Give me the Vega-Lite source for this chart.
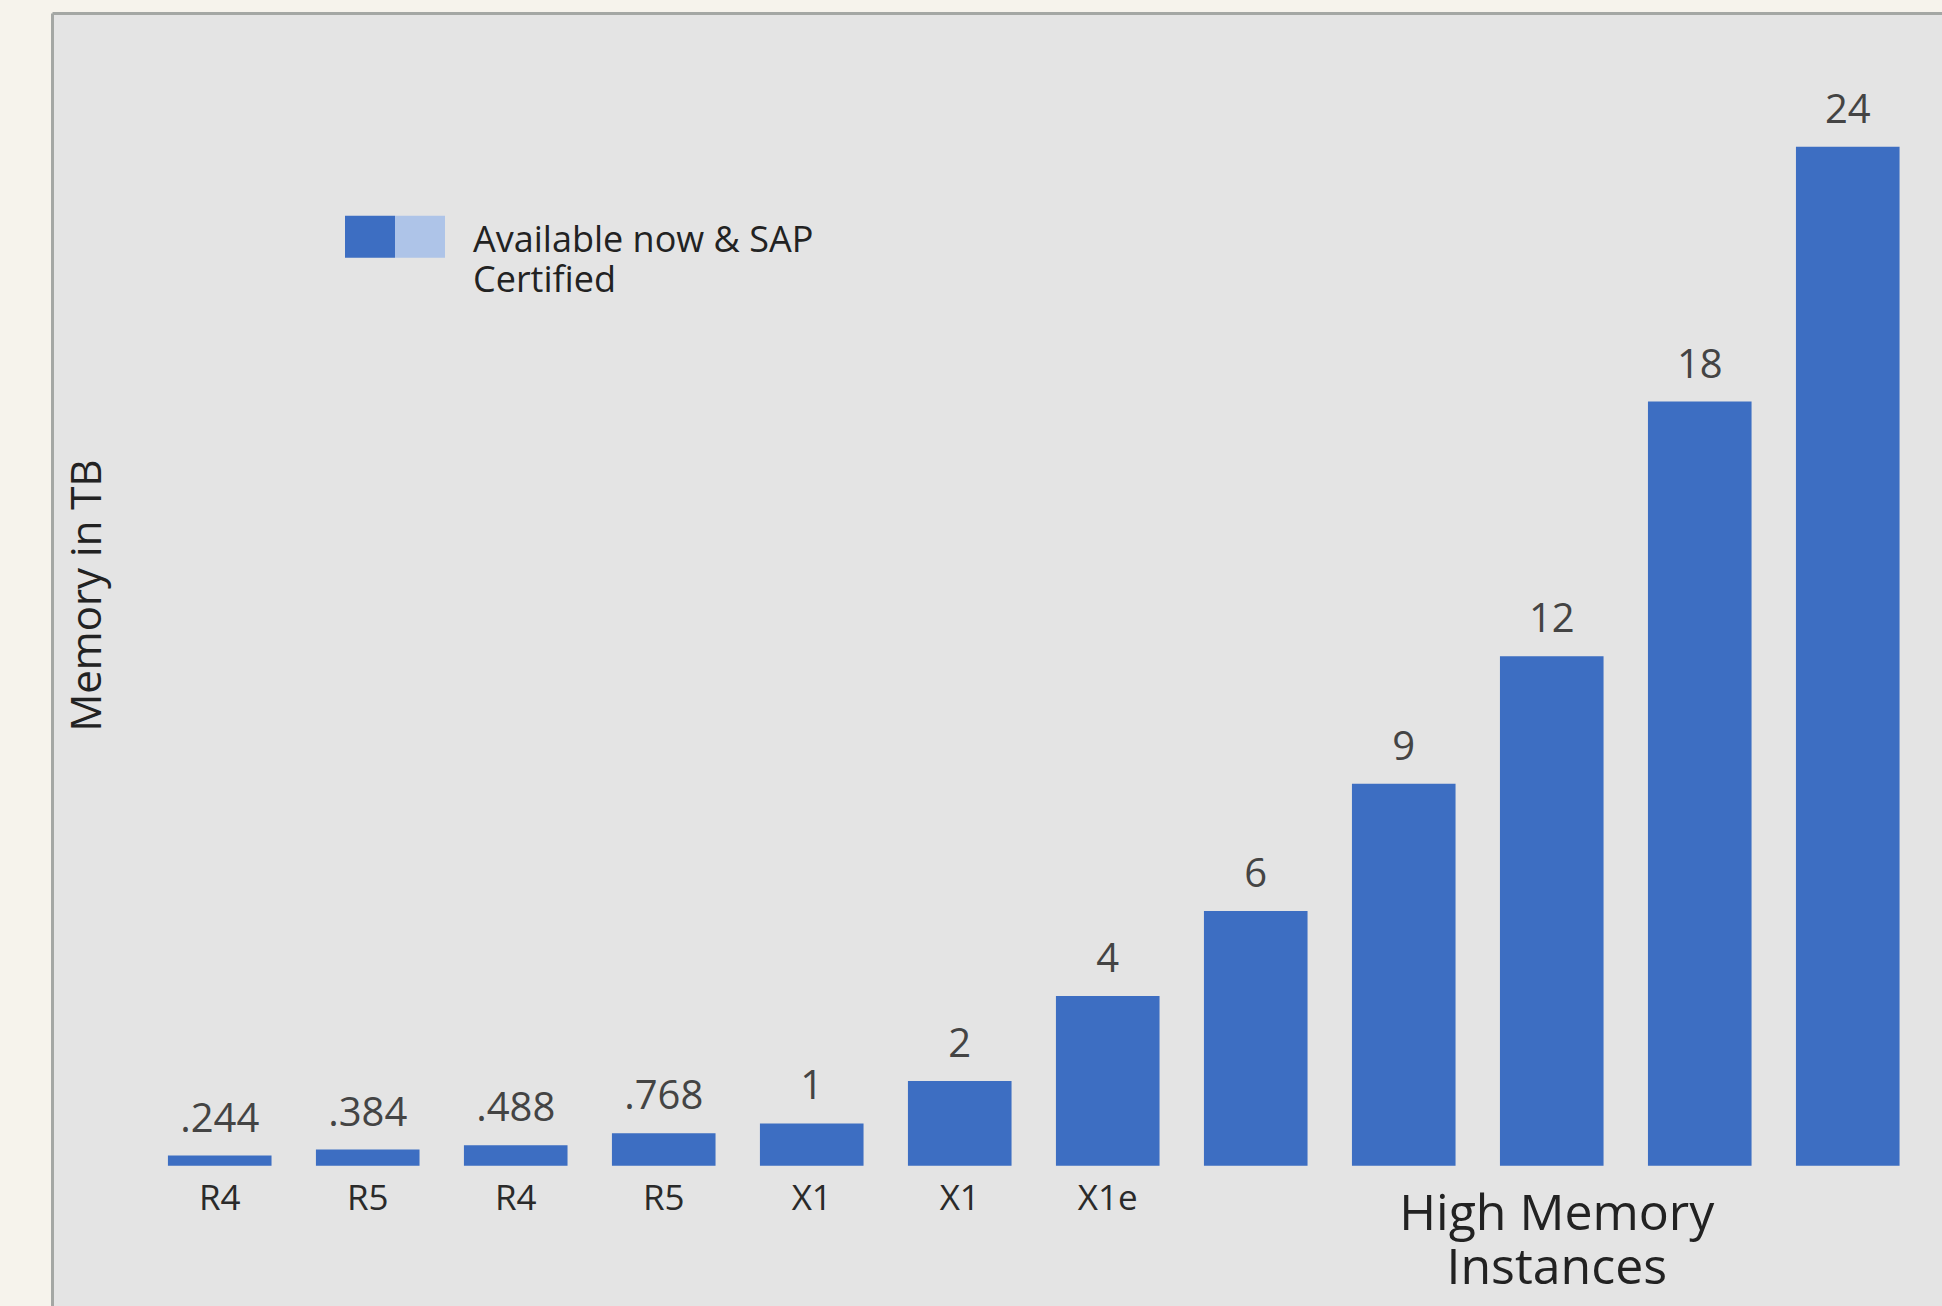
{
  "$schema": "https://vega.github.io/schema/vega-lite/v6.json",
  "width": 1890,
  "height": 1293,
  "autosize": {"type": "none"},
  "padding": {"left": 52, "top": 13, "right": 0, "bottom": 0},
  "background": "#f6f3ec",
  "config": {"view": {"fill": "#e4e4e4", "stroke": null}, "font": "Open Sans"},
  "data": {
    "values": [
      {"label": ".244", "value": 0.244, "family": "R4"},
      {"label": ".384", "value": 0.384, "family": "R5"},
      {"label": ".488", "value": 0.488, "family": "R4"},
      {"label": ".768", "value": 0.768, "family": "R5"},
      {"label": "1", "value": 1, "family": "X1"},
      {"label": "2", "value": 2, "family": "X1"},
      {"label": "4", "value": 4, "family": "X1e"},
      {"label": "6", "value": 6, "family": ""},
      {"label": "9", "value": 9, "family": ""},
      {"label": "12", "value": 12, "family": "", "note": ["High Memory", "Instances"]},
      {"label": "18", "value": 18, "family": ""},
      {"label": "24", "value": 24, "family": ""}
    ]
  },
  "encoding": {
    "x": {
      "field": "label",
      "type": "nominal",
      "sort": null,
      "scale": {"paddingInner": 0.3, "paddingOuter": 0.535, "align": 0.732},
      "axis": {
        "orient": "top",
        "labels": false,
        "ticks": false,
        "grid": false,
        "title": null,
        "domainColor": "#a4a7a4",
        "domainWidth": 3
      }
    }
  },
  "layer": [
    {
      "mark": {"type": "bar"},
      "encoding": {
        "y": {
          "field": "value",
          "type": "quantitative",
          "scale": {"domain": [-3.3, 27.15], "nice": false, "zero": false},
          "axis": {
            "labels": false,
            "ticks": false,
            "grid": false,
            "domainColor": "#a4a7a4",
            "domainWidth": 3,
            "title": "Memory in TB",
            "titleFont": "Open Sans",
            "titleFontSize": 42,
            "titleFontWeight": "normal",
            "titleColor": "#222222",
            "titleAngle": -90,
            "titleBaseline": "alphabetic",
            "titleX": 48,
            "titleY": 582
          }
        },
        "y2": {"datum": 0},
        "color": {
          "datum": "Available now & SAP Certified",
          "type": "nominal",
          "scale": {
            "domain": ["Available now & SAP Certified", "Planned"],
            "range": ["#3d6ec2", "#aec4e8"]
          },
          "legend": {
            "orient": "none",
            "legendX": 293,
            "legendY": 211,
            "direction": "horizontal",
            "columns": 2,
            "labelExpr": "''",
            "labelOffset": 0,
            "columnPadding": 0,
            "symbolType": "M-1,-1.35H1V0.33H-1Z",
            "symbolSize": 2500,
            "symbolStrokeWidth": 0,
            "symbolOpacity": 1,
            "padding": 0,
            "title": ["Available now & SAP", "Certified"],
            "titleOrient": "right",
            "titlePadding": 28,
            "titleLimit": 2000,
            "titleFont": "Open Sans",
            "titleFontSize": 36,
            "titleFontWeight": "normal",
            "titleColor": "#222222",
            "titleLineHeight": 40,
            "titleBaseline": "top",
            "titleAnchor": "start"
          }
        }
      }
    },
    {
      "mark": {"type": "text", "baseline": "alphabetic", "align": "center", "dy": -24, "fontSize": 40, "color": "#444444"},
      "encoding": {
        "y": {"field": "value", "type": "quantitative"},
        "text": {"field": "label", "type": "nominal"}
      }
    },
    {
      "mark": {"type": "text", "baseline": "alphabetic", "align": "center", "dy": 44, "fontSize": 35, "color": "#2a2a2a"},
      "encoding": {
        "y": {"datum": 0, "type": "quantitative"},
        "text": {"field": "family", "type": "nominal"}
      }
    },
    {
      "transform": [{"filter": "isValid(datum.note)"}],
      "mark": {"type": "text", "baseline": "alphabetic", "align": "center", "dy": 64, "dx": 5, "fontSize": 50, "lineHeight": 54, "color": "#222222"},
      "encoding": {
        "y": {"datum": 0, "type": "quantitative"},
        "text": {"field": "note", "type": "nominal"}
      }
    }
  ]
}
